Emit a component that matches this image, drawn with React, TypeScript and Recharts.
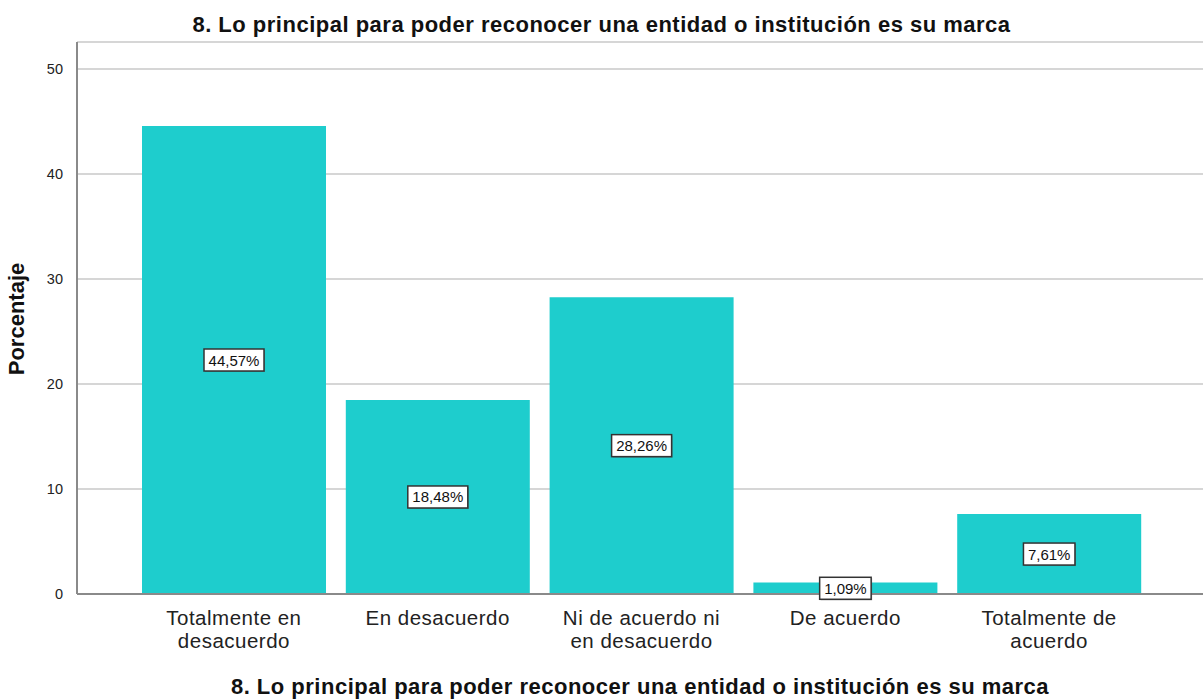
import React from 'react';
import { BarChart, Bar, XAxis, YAxis, CartesianGrid, LabelList } from 'recharts';

const TITLE = '8. Lo principal para poder reconocer una entidad o institución es su marca';
const categories = [
    'Totalmente en\ndesacuerdo',
    'En desacuerdo',
    'Ni de acuerdo ni\nen desacuerdo',
    'De acuerdo',
    'Totalmente de\nacuerdo',
];
const percentages = [44.57, 18.48, 28.26, 1.09, 7.61];
const yTicks = [0, 10, 20, 30, 40, 50];

const FONT = '"Liberation Sans", Arial, sans-serif';

const data = categories.map((c, i) => ({ name: c, value: percentages[i] }));

// category labels split on newline, like the SPSS output
function CategoryTick(props: any) {
    const { x, y, payload } = props;
    const lines = String(payload.value).split('\n');
    return (
        <text x={x} y={y} textAnchor="middle" fontFamily={FONT} fontSize={20.5} letterSpacing={0.5} fill="#222">
            {lines.map((l, i) => (
                <tspan key={i} x={x} dy={i === 0 ? 23 : 23}>{l}</tspan>
            ))}
        </text>
    );
}

function BoxLabel(props: any) {
    const { x, y, width, height, value } = props;
    const txt = value.toFixed(2).replace('.', ',') + '%';
    const cx = x + width / 2;
    const cy = y + height / 2;
    const w = txt.length * 8.5 + 9;
    const h = 22;
    return (
        <g>
            <rect x={cx - w / 2 + 1} y={cy - h / 2 + 1} width={w} height={h} fill="#555" opacity={0.5} />
            <rect x={cx - w / 2} y={cy - h / 2} width={w} height={h} fill="#fff" stroke="#333" strokeWidth={1.5} />
            <text x={cx} y={cy + 5.5} textAnchor="middle" fontFamily={FONT} fontSize={15} fill="#111">{txt}</text>
        </g>
    );
}

const titleStyle: React.CSSProperties = {
    position: 'absolute',
    textAlign: 'center',
    fontSize: 22,
    fontWeight: 'bold',
    letterSpacing: 0.5,
    color: '#111',
    whiteSpace: 'nowrap',
};

export default function App() {
    return (
        <div style={{ position: 'absolute', left: 0, top: 0, width: 1203, height: 699, background: '#fff', fontFamily: FONT, overflow: 'hidden' }}>
            <div style={{ ...titleStyle, left: 0, top: 12, width: 1203 }}>{TITLE}</div>
            <div style={{ ...titleStyle, left: 77, top: 674, width: 1126 }}>{TITLE}</div>
            <div style={{ position: 'absolute', left: 17, top: 319, transform: 'translate(-50%, -50%) rotate(-90deg)', fontSize: 22, fontWeight: 'bold', color: '#111', whiteSpace: 'nowrap' }}>
                Porcentaje
            </div>
            <BarChart
                width={1203}
                height={699}
                data={data}
                margin={{ top: 42, right: 0, left: 0, bottom: 45 }}
                barCategoryGap={10}
                style={{ position: 'absolute', left: 0, top: 0 }}
            >
                <CartesianGrid vertical={false} stroke="#d6d6d6" strokeWidth={2} />
                <XAxis
                    dataKey="name"
                    height={60}
                    padding={{ left: 55, right: 52 }}
                    tickLine={false}
                    axisLine={{ stroke: '#8a8a8a', strokeWidth: 2 }}
                    tick={<CategoryTick />}
                    interval={0}
                />
                <YAxis
                    width={77}
                    domain={[0, 52.57]}
                    ticks={yTicks}
                    allowDataOverflow
                    tickLine={false}
                    axisLine={{ stroke: '#8a8a8a', strokeWidth: 2 }}
                    tick={{ fontSize: 14.5, fill: '#222', fontFamily: FONT }}
                    tickMargin={8}
                />
                <Bar dataKey="value" fill="#1ECDCD" isAnimationActive={false}>
                    <LabelList dataKey="value" content={<BoxLabel />} />
                </Bar>
            </BarChart>
        </div>
    );
}
